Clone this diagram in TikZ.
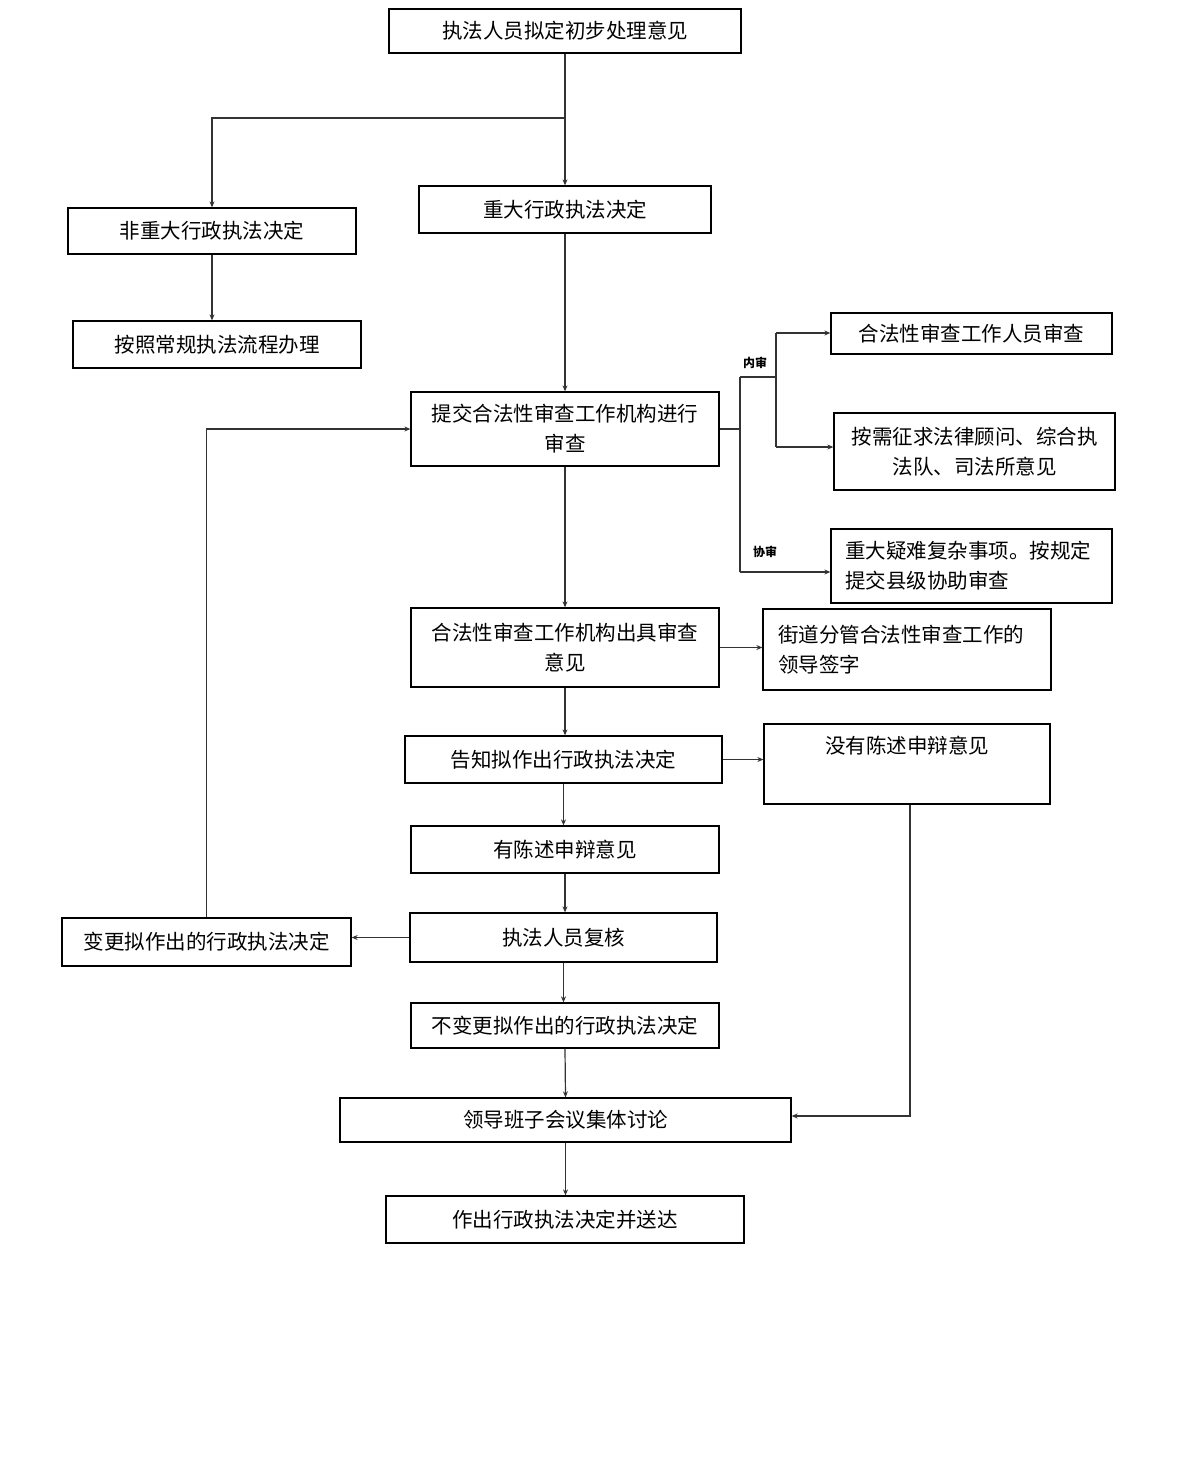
\documentclass[tikz,border=0pt]{standalone}
\usepackage{fontspec}
\newfontfamily\cjk{Noto Sans CJK SC}
\usetikzlibrary{arrows.meta}
\begin{document}
\begin{tikzpicture}[x=1pt,y=-1pt,
  box/.style={draw=black, line width=1.3pt, inner sep=0pt, align=center,
    font=\cjk\fontsize{20.5}{30}\selectfont},
  ltxt/.style={font=\cjk\fontsize{20.5}{30}\selectfont, inner sep=0pt},
  lbl/.style={font=\cjk\bfseries\fontsize{12}{14}\selectfont, inner sep=0pt},
  conn/.style={draw=black!80, line width=1.2pt},
  arr/.style={conn, -{Stealth[length=6pt,width=5pt]}}]
\useasboundingbox[fill=white] (0,0) rectangle (1199,1462);

\node[box, minimum width=352, minimum height=44] (n1) at (565,31) {执法人员拟定初步处理意见};
\node[box, minimum width=292, minimum height=47] (n2) at (565,209.5) {重大行政执法决定};
\node[box, minimum width=288, minimum height=46] (n3) at (212,231) {非重大行政执法决定};
\node[box, minimum width=288, minimum height=47] (n4) at (217,344.5) {按照常规执法流程办理};
\node[box, minimum width=308, minimum height=74] (n5) at (565,429) {提交合法性审查工作机构进行\\审查};
\node[box, minimum width=281, minimum height=41] (n6) at (971.5,333.5) {合法性审查工作人员审查};
\node[box, minimum width=281, minimum height=77] (n7) at (974.5,451.5) {按需征求法律顾问、综合执\\法队、司法所意见};
\node[box, minimum width=281, minimum height=74, align=left, text width=253] (n8) at (971.5,566) {重大疑难复杂事项。按规定\\提交县级协助审查};
\node[box, minimum width=308, minimum height=79] (n9) at (565,647.5) {合法性审查工作机构出具审查\\意见};
\node[box, minimum width=288, minimum height=81, align=left, text width=258] (n10) at (907,649.5) {街道分管合法性审查工作的\\领导签字};
\node[box, minimum width=317, minimum height=47] (n11) at (563.5,759.5) {告知拟作出行政执法决定};
\node[box, minimum width=286, minimum height=80] (n12) at (907,764) {};
\node[ltxt] (t12) at (907,746) {没有陈述申辩意见};
\node[box, minimum width=308, minimum height=47] (n13) at (565,849.5) {有陈述申辩意见};
\node[box, minimum width=307, minimum height=49] (n14) at (563.5,937.5) {执法人员复核};
\node[box, minimum width=289, minimum height=48] (n15) at (206.5,942) {变更拟作出的行政执法决定};
\node[box, minimum width=308, minimum height=45] (n16) at (565,1025.5) {不变更拟作出的行政执法决定};
\node[box, minimum width=451, minimum height=44] (n17) at (565.5,1120) {领导班子会议集体讨论};
\node[box, minimum width=358, minimum height=47] (n18) at (565,1219.5) {作出行政执法决定并送达};

% top split
\coordinate (j1) at (565,118);
\draw[arr] (n1.south) -- (n2.north);
\draw[arr] (j1) -| (n3.north);
\draw[arr] (n3.south) -- (n3.south |- n4.north);
\draw[arr] (n2.south) -- (n5.north);

% review branches
\coordinate (b1) at (740,429);
\coordinate (b1top) at (740,377);
\coordinate (b1bot) at (740,572);
\coordinate (b2) at (776,377);
\coordinate (b2top) at (776,333);
\coordinate (b2bot) at (776,447);
\draw[conn] (n5.east) -- (b1);
\draw[conn] (b1top) -- (b1bot);
\draw[conn] (b1top) -- (b2);
\draw[conn] (b2top) -- (b2bot);
\draw[arr] (b2top) -- (b2top -| n6.west);
\draw[arr] (b2bot) -- (b2bot -| n7.west);
\draw[arr] (b1bot) -- (b1bot -| n8.west);
\node[lbl] (l1) at (755,363) {内审};
\node[lbl] (l2) at (765,552) {协审};

\draw[arr] (n5.south) -- (n9.north);
\draw[arr] (n9.east) -- (n9.east -| n10.west);
\draw[arr] (n9.south) -- (n9.south |- n11.north);
\draw[arr] (n11.east) -- (n11.east -| n12.west);
\draw[arr] (n11.south) -- (n11.south |- n13.north);
\draw[arr] (n13.south) -- (n13.south |- n14.north);
\draw[arr] (n14.west) -- (n14.west -| n15.east);
\draw[arr] (n15.north) |- (n5.west);
\draw[arr] (n14.south) -- (n14.south |- n16.north);
\draw[arr] (n16.south) -- (n17.north);
\draw[arr] ([xshift=3pt]n12.south) |- ([yshift=4pt]n17.east);
\draw[arr] (n17.south) -- (n17.south |- n18.north);
\end{tikzpicture}
\end{document}
